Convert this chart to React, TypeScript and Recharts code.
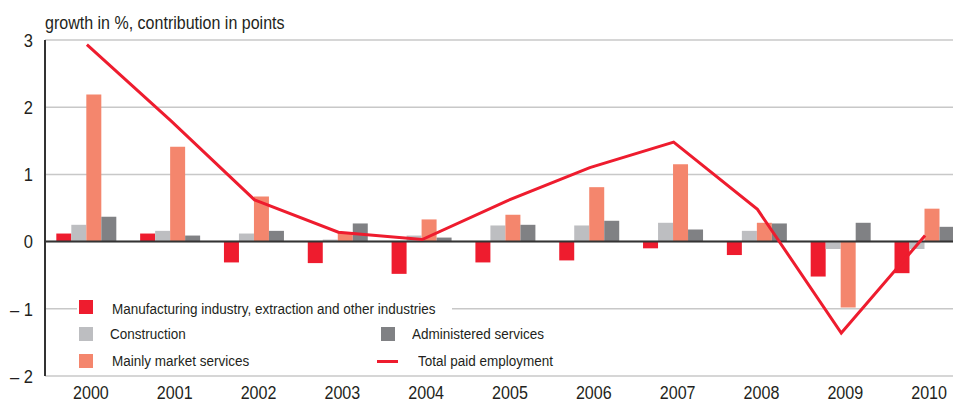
import React from 'react';
import { ComposedChart, Bar, Line, XAxis, YAxis, CartesianGrid, ReferenceLine } from 'recharts';

const years = ['2000', '2001', '2002', '2003', '2004', '2005', '2006', '2007', '2008', '2009', '2010'];
const manufacturing = [0.12, 0.12, -0.31, -0.32, -0.48, -0.31, -0.28, -0.1, -0.2, -0.52, -0.47];
const construction = [0.25, 0.16, 0.12, 0.03, 0.09, 0.24, 0.24, 0.28, 0.16, -0.11, -0.11];
const marketServices = [2.19, 1.41, 0.67, 0.14, 0.33, 0.4, 0.81, 1.15, 0.28, -0.98, 0.49];
const administered = [0.37, 0.09, 0.16, 0.27, 0.06, 0.25, 0.31, 0.18, 0.27, 0.28, 0.22];
const totalEmployment = [2.93, 1.8, 0.62, 0.14, 0.03, 0.6, 1.1, 1.48, 0.48, -1.36, 0.09];
const yTicks = [-2, -1, 0, 1, 2, 3];

const RED = '#ee1c2e';
const LIGHT_GREY = '#bdbec1';
const SALMON = '#f4866d';
const DARK_GREY = '#808184';
const TEXT = '#231f20';
const FONT = "'Liberation Sans', Arial, sans-serif";
const SQUEEZE = 0.87; // fake a condensed face

const data = years.map((year, i) => ({
  year,
  manufacturing: manufacturing[i],
  construction: construction[i],
  market: marketServices[i],
  administered: administered[i],
  total: totalEmployment[i],
}));

const fmtTick = (v: number) => (v < 0 ? `\u2013 ${Math.abs(v)}` : `${v}`);

const XTick = ({ x, y, payload }: any) => (
  <text
    transform={`translate(${x + 4},${y}) scale(${SQUEEZE},1)`}
    textAnchor="middle"
    dy="0.71em"
    fill={TEXT}
    fontSize={18.5}
    fontFamily={FONT}
  >
    {payload.value}
  </text>
);

const YTick = ({ x, y, payload }: any) => (
  <text
    transform={`translate(${x},${y}) scale(${SQUEEZE},1)`}
    textAnchor="end"
    dy="0.355em"
    fill={TEXT}
    fontSize={19}
    fontFamily={FONT}
  >
    {fmtTick(payload.value)}
  </text>
);

const square = (color: string, left: number, top: number) => (
  <div style={{ position: 'absolute', left, top, width: 14, height: 14, background: color }} />
);

const label = (text: string, left: number, centerY: number) => (
  <div
    style={{
      position: 'absolute',
      left,
      top: centerY - 10,
      lineHeight: '20px',
      fontSize: 15.5,
      color: TEXT,
      whiteSpace: 'nowrap',
      transform: `scaleX(${SQUEEZE})`,
      transformOrigin: 'left center',
    }}
  >
    {text}
  </div>
);

// legend box sits inside the plot, white background hides the -1 gridline
const LegendBox = () => (
  <div style={{ position: 'absolute', left: 77, top: 295, width: 375, height: 77, background: '#fff' }}>
    {square(RED, 2, 5)}
    {label('Manufacturing industry, extraction and other industries', 35, 14)}
    {square(LIGHT_GREY, 2, 32)}
    {label('Construction', 33, 39)}
    {square(SALMON, 2, 59)}
    {label('Mainly market services', 35, 66)}
    {square(DARK_GREY, 304, 32)}
    {label('Administered services', 335, 39)}
    <div style={{ position: 'absolute', left: 300, top: 65, width: 21, height: 3, background: RED }} />
    {label('Total paid employment', 341, 66)}
  </div>
);

export default function App() {
  return (
    <div style={{ position: 'absolute', left: 0, top: 0, width: 953, height: 403, overflow: 'hidden', background: '#fff', fontFamily: FONT }}>
      <ComposedChart
        width={975}
        height={403}
        data={data}
        margin={{ top: 40, right: 8, bottom: 0, left: 0 }}
        barCategoryGap="13.5%"
        barGap={0}
      >
        <CartesianGrid vertical={false} stroke="#c8c8c8" strokeWidth={1.5} />
        <XAxis
          dataKey="year"
          height={27}
          axisLine={false}
          tickLine={false}
          tickSize={0}
          tickMargin={10}
          interval={0}
          tick={<XTick />}
        />
        <YAxis
          domain={[-2, 3]}
          ticks={yTicks}
          width={45}
          interval={0}
          axisLine={{ stroke: '#333', strokeWidth: 2 }}
          tickLine={false}
          tickSize={0}
          tickMargin={12}
          tick={<YTick />}
        />
        <ReferenceLine y={0} stroke="#333" strokeWidth={2} />
        <Bar dataKey="manufacturing" fill={RED} isAnimationActive={false} />
        <Bar dataKey="construction" fill={LIGHT_GREY} isAnimationActive={false} />
        <Bar dataKey="market" fill={SALMON} isAnimationActive={false} />
        <Bar dataKey="administered" fill={DARK_GREY} isAnimationActive={false} />
        <Line dataKey="total" type="linear" stroke={RED} strokeWidth={3} dot={false} isAnimationActive={false} />
      </ComposedChart>
      <LegendBox />
      <div
        style={{
          position: 'absolute',
          left: 45,
          top: 11,
          fontSize: 18,
          lineHeight: '24px',
          color: TEXT,
          whiteSpace: 'nowrap',
          transform: 'scaleX(0.89)',
          transformOrigin: 'left center',
        }}
      >
        growth in %, contribution in points
      </div>
    </div>
  );
}
